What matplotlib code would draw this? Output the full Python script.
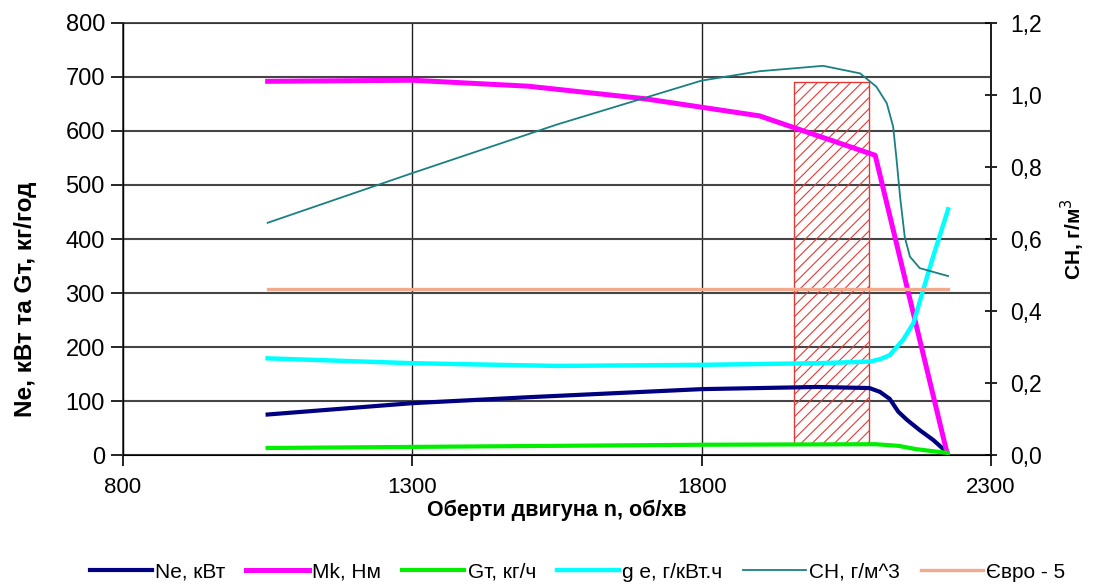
import numpy as np
import matplotlib
matplotlib.use("Agg")
import matplotlib.pyplot as plt
from matplotlib.ticker import FuncFormatter

plt.rcParams['font.family'] = ['Liberation Sans', 'DejaVu Sans']
plt.rcParams['hatch.linewidth'] = 0.8

# readings from the chart
mk_rpm = [1050, 1300, 1500, 1700, 1800, 1900, 2100, 2225]
mk = [692, 694, 683, 660, 644, 628, 555, 0]

ne_rpm = [1050, 1300, 1500, 1700, 1800, 1900, 2000, 2090, 2108, 2125, 2140, 2155, 2177, 2200, 2223]
ne = [75, 96, 107, 117, 122, 124, 126, 124, 117, 104, 80, 65, 46, 28, 6]

gt_rpm = [1050, 1300, 1800, 2100, 2140, 2170, 2200, 2225]
gt = [13, 15, 19, 20, 17, 11, 7, 4]

ge_rpm = [1050, 1300, 1550, 1800, 2000, 2091, 2110, 2125, 2148, 2166, 2183, 2200, 2226]
ge = [179, 170, 165, 167, 170, 173, 178, 185, 213, 244, 306, 367, 455]

ch_rpm = [1050, 1300, 1550, 1800, 1900, 2010, 2074, 2102, 2120, 2131, 2137, 2143, 2151, 2160, 2177, 2226]
ch = [0.645, 0.783, 0.918, 1.04, 1.066, 1.081, 1.06, 1.023, 0.977, 0.912, 0.819, 0.717, 0.606, 0.551, 0.519, 0.497]

euro_rpm = [1050, 2225]
euro = [0.46, 0.46]

zone_rpm = [1960, 2090]
zone_low, zone_high = 20, 690

fig = plt.figure(figsize=(10.94, 5.85), dpi=100)
ax = fig.add_axes([0.1124, 0.2222, 0.7934, 0.7385])
ax2 = ax.twinx()

ax.fill_between(zone_rpm, zone_low, zone_high, facecolor='none', edgecolor='#E53935',
                hatch='///', lw=1.0, zorder=2)

l_ne, = ax.plot(ne_rpm, ne, color='#000080', lw=3.0, label='Ne, кВт', zorder=4)
l_mk, = ax.plot(mk_rpm, mk, color='#FF00FF', lw=3.6, label='Mk, Нм', zorder=4)
l_gt, = ax.plot(gt_rpm, gt, color='#00EE00', lw=3.0, label='Gт, кг/ч', zorder=4)
l_ge, = ax.plot(ge_rpm, ge, color='#00FFFF', lw=3.2, label='g e, г/кВт.ч', zorder=4)
l_ch, = ax2.plot(ch_rpm, ch, color='#1A8080', lw=1.3, label='CH, г/м^3', zorder=4)
l_eu, = ax2.plot(euro_rpm, euro, color='#F2A98E', lw=2.4, label='Євро - 5', zorder=3)

ax.set_xlim(800, 2300)
ax.set_ylim(0, 800)
ax.set_xticks([800, 1300, 1800, 2300])
ax.set_yticks(range(0, 801, 100))
ax2.set_ylim(0, 1.2)
ax2.set_yticks(np.arange(0, 1.21, 0.2))
ax2.yaxis.set_major_formatter(FuncFormatter(lambda v, p: f"{v:.1f}".replace('.', ',')))

ax.grid(axis='y', color='#454545', lw=1.5)
ax.grid(axis='x', color='#202020', lw=1.0)
ax.set_axisbelow(True)

for sp in ax.spines.values():
    sp.set_color('#303030')
    sp.set_linewidth(1.2)
ax2.spines['right'].set_color('#202020')
ax2.spines['right'].set_linewidth(1.4)
ax2.spines['top'].set_visible(False)

ax.tick_params(axis='y', labelsize=17, length=9, width=1.2, pad=4)
ax.tick_params(axis='x', labelsize=16, length=8, width=1.2, pad=8, direction='out')
ax2.tick_params(axis='y', labelsize=16.5, length=8, width=1.2, pad=10, direction='inout')

ax.set_xlabel('Оберти двигуна n, об/хв', fontsize=15.5, fontweight='bold', labelpad=1)
ax.set_ylabel('Ne, кВт та Gт, кг/год', fontsize=17.5, fontweight='bold')
ax.yaxis.set_label_coords(-0.099, 0.36)
ax2.set_ylabel('CH, г/м$^3$', fontsize=15, fontweight='bold', labelpad=12)

fig.legend(handles=[l_ne, l_mk, l_gt, l_ge, l_ch, l_eu], loc='center', ncol=6,
           bbox_to_anchor=(0.528, 1 - 572 / 585), frameon=False,
           prop={'size': 15}, handlelength=3.0, handletextpad=0.15, columnspacing=1.0)

fig.savefig('out.png', dpi=100)
